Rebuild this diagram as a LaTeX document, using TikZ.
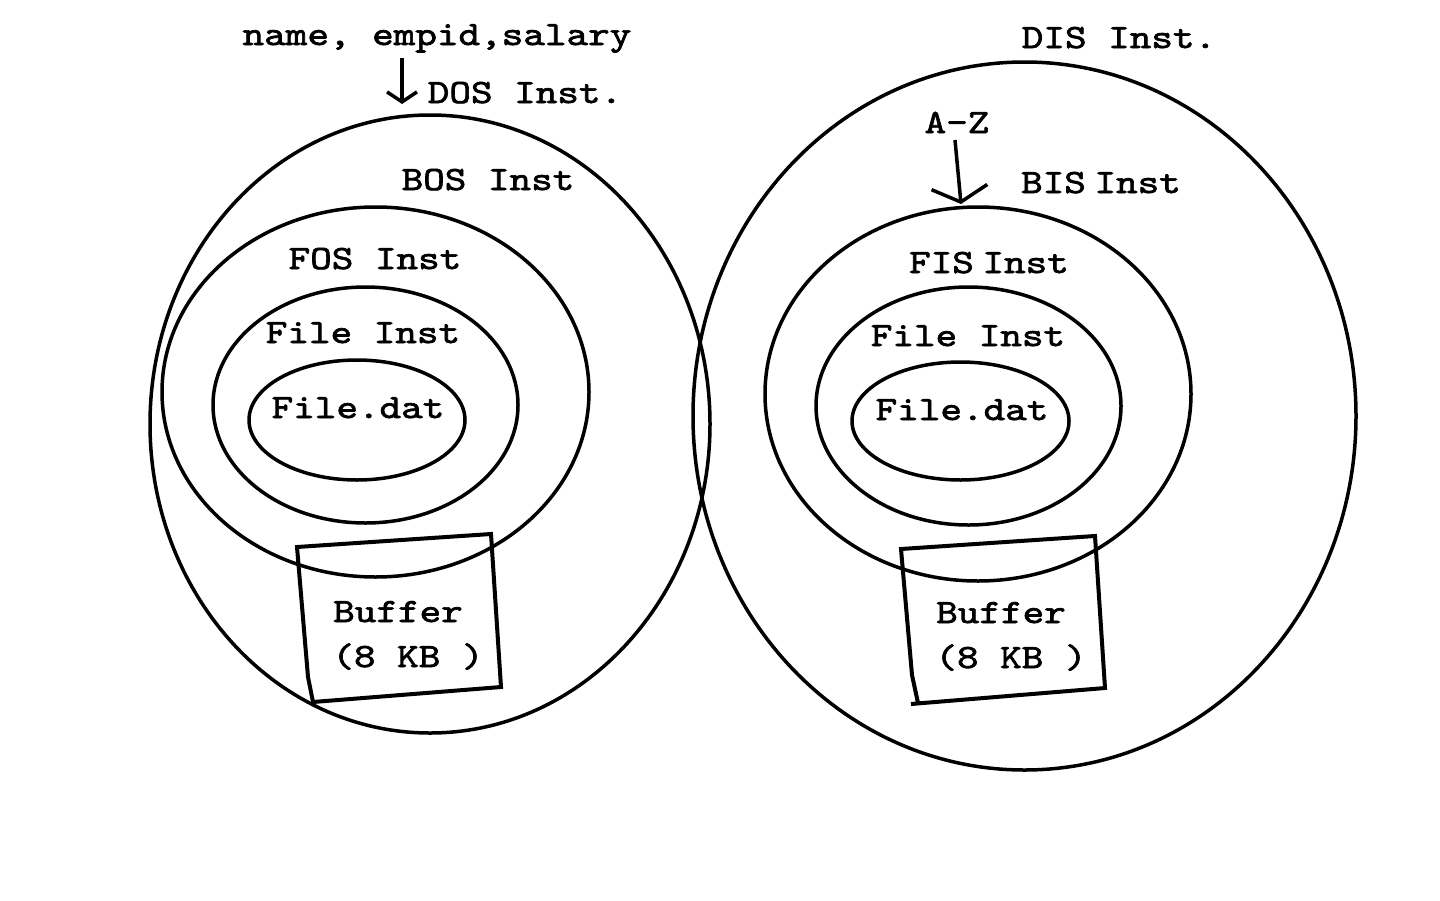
\documentclass[tikz,border=0pt]{standalone}
\usepackage{fontspec}
\newfontfamily\handfont{lmmono10-regular.otf}[FakeBold=2, FakeStretch=1.21]
\usetikzlibrary{shapes.geometric,arrows.meta}
\tikzset{
  ring/.style={draw, ellipse, line width=1.75pt, inner sep=0pt, outer sep=0pt},
  lbl/.style={font=\handfont\fontsize{17pt}{20pt}\selectfont, inner sep=0pt, anchor=base},
  boxline/.style={line width=2pt, line join=miter},
  arr/.style={line width=1.75pt},
}
\newcommand\tightsp{\kern-6.5pt\ }
\begin{document}
\begin{tikzpicture}[x=0.5pt,y=-0.5pt]
\useasboundingbox[fill=white] (0,0) rectangle (1440,900);

% left set of rings
\node[ring, minimum width=280pt, minimum height=309pt] (dosE) at (430,424) {};
\node[ring, minimum width=213.5pt, minimum height=185pt] (bosE) at (375.5,392) {};
\node[ring, minimum width=152.5pt, minimum height=118pt] (fosE) at (365.5,405) {};
\node[ring, minimum width=108pt, minimum height=60pt] (fileEL) at (357,420) {};

% right set of rings
\node[ring, minimum width=331.5pt, minimum height=354pt] (disE) at (1024.5,416) {};
\node[ring, minimum width=213pt, minimum height=187pt] (bisE) at (978,394) {};
\node[ring, minimum width=152.5pt, minimum height=119pt] (fisE) at (968.5,406) {};
\node[ring, minimum width=108.5pt, minimum height=59pt] (fileER) at (960.5,421) {};

% buffer boxes
\coordinate (bl1) at (297,547);
\coordinate (bl2) at (491,534);
\coordinate (bl3) at (501,687);
\coordinate (bl4) at (313,702);
\coordinate (bl5) at (308,677);
\draw[boxline] (bl1) -- (bl2) -- (bl3) -- (bl4) -- (bl5) -- cycle;

\coordinate (br0) at (911,704);
\coordinate (br1) at (1105,688);
\coordinate (br2) at (1095,536);
\coordinate (br3) at (901,549);
\coordinate (br4) at (912,675);
\coordinate (br5) at (918,703);
\draw[boxline] (br0) -- (br1) -- (br2) -- (br3) -- (br4) -- (br5);

% labels left
\node[lbl] (fields) at (437,45) {name, empid,salary};
\node[lbl] (dosL) at (525,103) {DOS Inst.};
\node[lbl] (bosL) at (488,190) {BOS Inst};
\node[lbl] (fosL) at (375,269) {FOS Inst};
\node[lbl] (fileInstL) at (363,343) {File Inst};
\node[lbl] (fileDatL) at (358,418) {File.dat};
\node[lbl] (bufL) at (398,622) {Buffer};
\node[lbl] (kbL) at (408,667) {(8 KB )};

% labels right
\node[lbl] (disL) at (1119,48) {DIS Inst.};
\node[lbl] (azL) at (957,133) {A-Z};
\node[lbl] (bisL) at (1101,193) {BIS\tightsp Inst};
\node[lbl] (fisL) at (989,273) {FIS\tightsp Inst};
\node[lbl] (fileInstR) at (968,346) {File Inst};
\node[lbl] (fileDatR) at (962,420) {File.dat};
\node[lbl] (bufR) at (1001,623) {Buffer};
\node[lbl] (kbR) at (1011,668) {(8 KB )};

% arrows
\coordinate (a1s) at (402,58);
\coordinate (a1e) at (402,104);
\draw[arr, -{Straight Barb[length=5pt,width=15pt]}] (a1s) -- (a1e);
\coordinate (a2s) at (955,140);
\coordinate (a2e) at (961,204);
\draw[arr, -{Straight Barb[length=7.5pt,width=28pt]}] (a2s) -- (a2e);
\end{tikzpicture}
\end{document}
